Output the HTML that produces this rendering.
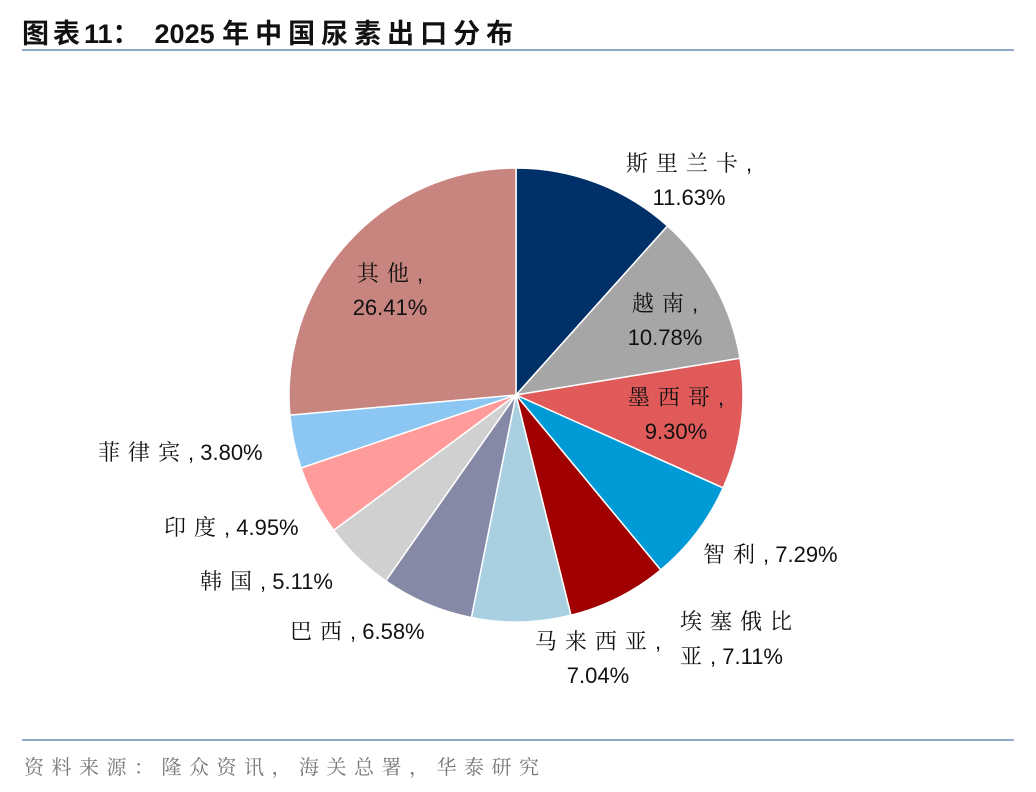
<!DOCTYPE html>
<html><head><meta charset="utf-8"><style>
body{margin:0;width:1036px;height:792px;background:#fff;position:relative;overflow:hidden;font-family:"Liberation Sans","Noto Serif CJK SC",serif}
.t{position:absolute;font-size:22px;color:#111;line-height:34px;white-space:nowrap}
.c{transform:translateX(-50%);text-align:center}
.cn{font-family:"Noto Serif CJK SC","Noto Sans CJK SC",serif;letter-spacing:8px}
</style></head><body>
<div style="position:absolute;left:22px;top:12px;font-size:27px;font-weight:bold;font-family:'Liberation Sans','Noto Sans CJK SC',sans-serif;color:#111"><span style="letter-spacing:4px">图表</span>11：&nbsp;&nbsp;2025 <span style="letter-spacing:6px">年中国尿素出口分布</span></div>
<div style="position:absolute;left:22px;top:49px;width:992px;height:2px;background:#8faacb"></div>
<svg id="pie" width="1036" height="792" style="position:absolute;left:0;top:0"></svg>
<div class="t c" style="left:689px;top:146px"><span class="cn">斯里兰卡</span>,<br>11.63%</div>
<div class="t c" style="left:665px;top:286px"><span class="cn">越南</span>,<br>10.78%</div>
<div class="t c" style="left:676px;top:380px"><span class="cn">墨西哥</span>,<br>9.30%</div>
<div class="t" style="left:703px;top:537px"><span class="cn">智利</span>, 7.29%</div>
<div class="t" style="left:680px;top:604px"><span class="cn">埃塞俄比</span><br><span class="cn">亚</span>, 7.11%</div>
<div class="t c" style="left:598px;top:624px"><span class="cn">马来西亚</span>,<br>7.04%</div>
<div class="t" style="left:290px;top:614px"><span class="cn">巴西</span>, 6.58%</div>
<div class="t" style="left:200px;top:564px"><span class="cn">韩国</span>, 5.11%</div>
<div class="t" style="left:164px;top:510px"><span class="cn">印度</span>, 4.95%</div>
<div class="t" style="left:98px;top:435px"><span class="cn">菲律宾</span>, 3.80%</div>
<div class="t c" style="left:390px;top:256px"><span class="cn">其他</span>,<br>26.41%</div>
<div style="position:absolute;left:22px;top:739px;width:992px;height:2px;background:#8faacb"></div>
<div class="cn" style="position:absolute;left:24px;top:751px;font-size:20px;color:#777;letter-spacing:7.5px">资料来源：隆众资讯，海关总署，华泰研究</div>
<script>
const categories=["斯里兰卡","越南","墨西哥","智利","埃塞俄比亚","马来西亚","巴西","韩国","印度","菲律宾","其他"];
const values=[11.63,10.78,9.30,7.29,7.11,7.04,6.58,5.11,4.95,3.80,26.41];
const colors=["#003068","#a6a6a6","#e05a5a","#009ad6","#a00000","#a9d0e0","#8689a6","#d0d0d0","#ff9b9b","#8cc6f2","#c8847f"];
const svg=document.getElementById('pie');
const cx=516,cy=395,r=227;
const total=values.reduce((a,b)=>a+b,0);
let a0=0;
values.forEach((v,i)=>{
  const a1=a0+v/total*2*Math.PI;
  const p=(a)=>[cx+r*Math.sin(a),cy-r*Math.cos(a)];
  const [x0,y0]=p(a0),[x1,y1]=p(a1);
  const large=(a1-a0)>Math.PI?1:0;
  const path=document.createElementNS('http://www.w3.org/2000/svg','path');
  path.setAttribute('d',`M${cx},${cy}L${x0},${y0}A${r},${r} 0 ${large} 1 ${x1},${y1}Z`);
  path.setAttribute('fill',colors[i]);
  path.setAttribute('stroke','#fff');
  path.setAttribute('stroke-width','1.5');
  
  
  svg.appendChild(path);
  a0=a1;
});
</script>
</body></html>
